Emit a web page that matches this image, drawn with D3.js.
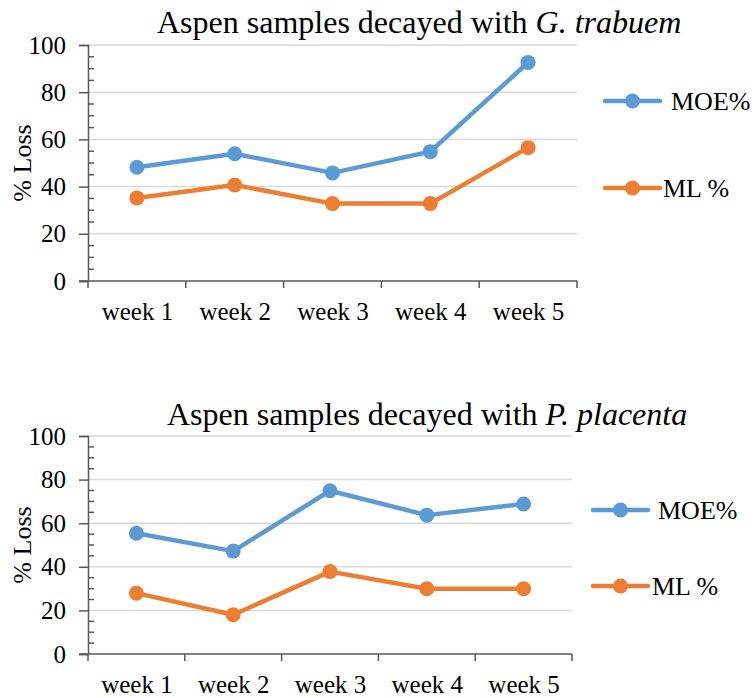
<!DOCTYPE html>
<html>
<head>
<meta charset="utf-8">
<script src="https://cdn.jsdelivr.net/npm/d3@7"></script>
<style>
  html, body { margin: 0; padding: 0; background: #fff; }
  svg, svg text { font-family: "Liberation Serif", "Times New Roman", serif !important; }
  svg { display: block; }
</style>
</head>
<body>
<svg id="chart" width="754" height="698"></svg>
<script>
// Categories and series values
const weeks = ["week 1", "week 2", "week 3", "week 4", "week 5"];
const trabuemMOE = [48.2, 53.9, 45.8, 54.8, 92.6];
const trabuemML  = [35.2, 40.7, 32.8, 32.8, 56.5];
const placentaMOE = [55.4, 47.2, 74.9, 63.7, 68.8];
const placentaML  = [27.9, 18.0, 37.8, 29.9, 29.9];
const yTicks = [0, 20, 40, 60, 80, 100];
const seriesNames = ["MOE%", "ML %"];

const COLORS = { moe: "#5B9BD5", ml: "#ED7D31" };
const AXIS = "#595959", GRID = "#d9d9d9";

const svg = d3.select("#chart");

function drawPanel(opt) {
  const g = svg.append("g");
  const x = d3.scalePoint().domain(weeks).range([opt.x0, opt.x1]).padding(0.5);
  const xb = d3.scaleBand().domain(weeks).range([opt.x0, opt.x1]);
  const y = d3.scaleLinear().domain([0, 100]).range([opt.yBottom, opt.yTop]);

  // gridlines
  g.append("g").selectAll("line").data(yTicks.filter(t => t > 0)).join("line")
    .attr("x1", opt.x0).attr("x2", opt.x1)
    .attr("y1", d => y(d)).attr("y2", d => y(d))
    .attr("stroke", GRID).attr("stroke-width", 1.5);

  // y axis: major ticks outward, minor ticks inward every 5
  const yAxis = g.append("g").attr("transform", `translate(${opt.x0},0)`)
    .call(d3.axisLeft(y).tickValues(yTicks).tickSize(9).tickPadding(13).tickFormat(d3.format("d")));
  yAxis.attr("font-family", null).attr("font-size", null);
  yAxis.select(".domain").attr("stroke", AXIS).attr("stroke-width", 1.5);
  yAxis.selectAll(".tick line").attr("stroke", AXIS).attr("stroke-width", 1.5);
  yAxis.selectAll(".tick text").style("font-size", "25px").attr("fill", "#000");
  const minor = d3.range(0, 101, 5).filter(v => v % 20 !== 0);
  g.append("g").selectAll("line").data(minor).join("line")
    .attr("x1", opt.x0).attr("x2", opt.x0 + 6)
    .attr("y1", d => y(d)).attr("y2", d => y(d))
    .attr("stroke", AXIS).attr("stroke-width", 1.5);

  // x axis with tick marks at category boundaries
  const xAxis = g.append("g").attr("transform", `translate(0,${opt.yBottom})`)
    .call(d3.axisBottom(x).tickSize(0).tickPadding(21));
  xAxis.attr("font-family", null).attr("font-size", null);
  xAxis.select(".domain").attr("stroke", AXIS).attr("stroke-width", 1.5)
    .attr("d", `M${opt.x0 - 9},0H${opt.x1}`);
  xAxis.selectAll(".tick text").style("font-size", "25px").attr("fill", "#000");
  const bounds = weeks.map(w => xb(w)).concat([opt.x1]);
  g.append("g").selectAll("line").data(bounds).join("line")
    .attr("x1", d => d).attr("x2", d => d)
    .attr("y1", opt.yBottom).attr("y2", opt.yBottom + 7)
    .attr("stroke", AXIS).attr("stroke-width", 1.5);

  // y axis title
  g.append("text")
    .attr("transform", `translate(31,${(opt.yTop + opt.yBottom) / 2}) rotate(-90)`)
    .attr("text-anchor", "middle").style("font-size", "26px").attr("fill", "#000")
    .text("% Loss");

  // chart title with italic species name
  const t = g.append("text").attr("x", opt.titleX).attr("y", opt.titleY)
    .style("font-size", "32px").attr("fill", "#000");
  t.append("tspan").text("Aspen samples decayed with ");
  t.append("tspan").attr("font-style", "italic").text(opt.species);

  // series
  const line = d3.line().x((d, i) => x(weeks[i])).y(d => y(d));
  const series = [
    { name: seriesNames[0], values: opt.moe, color: COLORS.moe },
    { name: seriesNames[1], values: opt.ml, color: COLORS.ml }
  ];
  series.forEach(s => {
    g.append("path").datum(s.values).attr("d", line)
      .attr("fill", "none").attr("stroke", s.color).attr("stroke-width", 4.5)
      .attr("stroke-linejoin", "round").attr("stroke-linecap", "round");
    g.append("g").selectAll("circle").data(s.values).join("circle")
      .attr("cx", (d, i) => x(weeks[i])).attr("cy", d => y(d)).attr("r", 7.5)
      .attr("fill", s.color);
  });

  // legend
  series.forEach((s, i) => {
    const L = opt.legend[i];
    const lg = g.append("g");
    lg.append("line").attr("x1", L.x).attr("x2", L.x + 55).attr("y1", L.y).attr("y2", L.y)
      .attr("stroke", s.color).attr("stroke-width", 4.5).attr("stroke-linecap", "round");
    lg.append("circle").attr("cx", L.x + 27.5).attr("cy", L.y).attr("r", 7.5).attr("fill", s.color);
    lg.append("text").attr("x", L.tx).attr("y", L.y).attr("dy", "0.33em")
      .style("font-size", "26px").attr("fill", "#000").text(s.name);
  });
}

drawPanel({
  x0: 88, x1: 577, yTop: 45, yBottom: 281,
  titleX: 157, titleY: 33, species: "G. trabuem",
  moe: trabuemMOE, ml: trabuemML,
  legend: [{ x: 605, y: 101, tx: 671 }, { x: 605, y: 188, tx: 663 }]
});

drawPanel({
  x0: 88, x1: 572, yTop: 436, yBottom: 654,
  titleX: 167, titleY: 425, species: "P. placenta",
  moe: placentaMOE, ml: placentaML,
  legend: [{ x: 593, y: 510, tx: 658 }, { x: 593, y: 586, tx: 652 }]
});
</script>
</body>
</html>
